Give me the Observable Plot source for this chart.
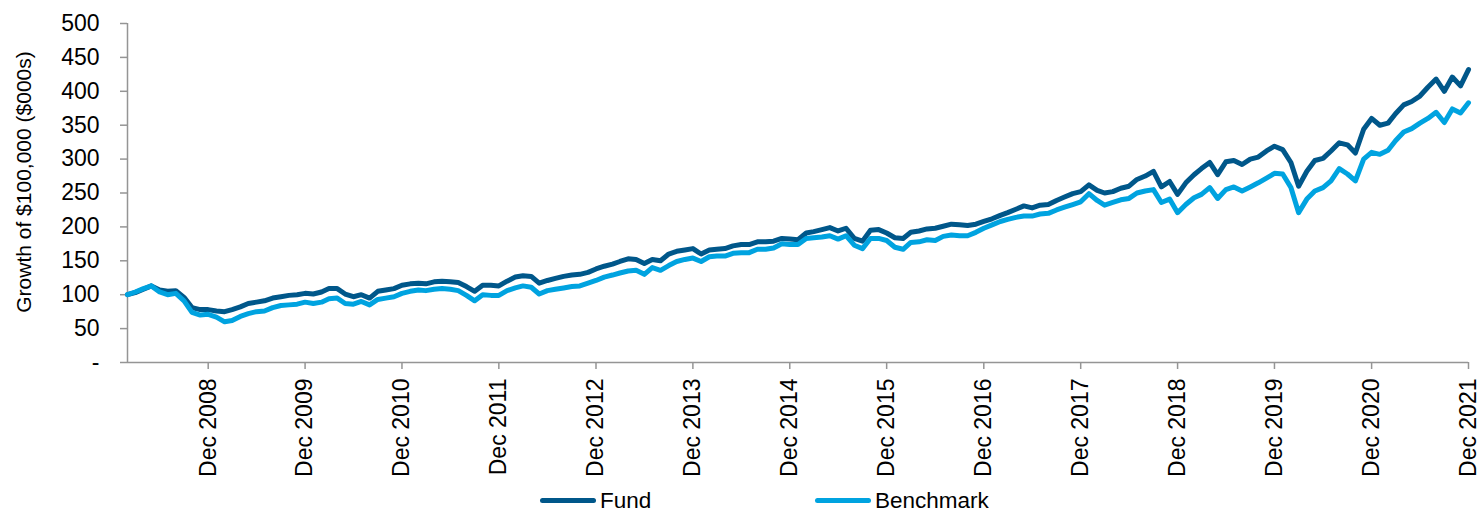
<!DOCTYPE html>
<html><head><meta charset="utf-8">
<script src="https://cdn.jsdelivr.net/npm/d3@7"></script>
<script src="https://cdn.jsdelivr.net/npm/@observablehq/plot@0.6"></script>
<style>
body{margin:0;background:#fff;font-family:"Liberation Sans",Arial,sans-serif;overflow:hidden}
#legend{position:relative;height:23px;width:1480px;}
.item{position:absolute;top:0px;display:flex;align-items:center;font-size:22.5px;line-height:21px;color:#000;white-space:nowrap}
.sw{display:inline-block;width:56px;height:5px;border-radius:3px;margin-right:4px}
</style></head><body><div id="chart"></div><div id="legend"></div>
<script>
// First month of the series: Feb 2008 (year, zero-based month)
const startYear = 2008, startMonthIndex = 1;

const fund = [
  100,103,108,113,107,105,106,96,81,78,78,
  76,75,78,82,87,89,91,95,97,99,100,102,
  101,104,109,109,101,97,100,95,105,107,109,114,
  116,117,116,119,120,119,118,112,105,114,114,113,
  120,126,128,127,117,121,124,127,129,130,133,138,
  142,145,149,153,152,146,152,150,160,164,166,168,
  160,166,167,168,172,174,174,178,178,179,183,182,
  181,191,193,196,199,194,198,183,179,195,196,191,
  184,183,192,194,197,198,201,204,203,202,204,208,
  212,217,221,226,231,228,232,233,239,244,249,252,
  262,254,250,252,257,260,270,275,282,259,267,248,
  265,277,286,295,277,296,298,292,300,303,312,319,
  314,295,260,282,298,301,312,324,321,309,344,360,
  350,353,367,380,385,393,406,418,400,421,408,432
];
const benchmark = [
  100,104,109,113,104,100,102,91,74,70,71,
  67,60,62,68,72,75,76,81,84,85,86,89,
  87,89,94,95,87,86,90,85,93,95,97,102,
  105,107,106,108,109,108,106,99,91,100,99,99,
  106,110,113,111,101,106,108,110,112,113,117,121,
  126,129,132,135,136,130,140,136,143,149,152,154,
  149,156,157,157,161,162,162,167,167,169,175,174,
  174,183,184,185,187,182,187,173,168,183,183,180,
  170,167,177,178,181,180,186,188,187,187,192,198,
  203,208,211,214,216,216,219,220,225,229,233,237,
  249,239,232,236,240,242,250,253,255,236,241,221,
  233,243,248,258,242,255,259,253,259,265,272,279,
  278,258,221,241,253,258,268,286,278,268,300,310,
  307,313,327,340,345,353,360,369,354,374,368,383
];
const seriesNames = ["Fund", "Benchmark"];
const seriesColors = ["#00578A", "#00A3E0"];
const yTicks = [0,50,100,150,200,250,300,350,400,450,500];
const xTickLabels = ["Dec 2008","Dec 2009","Dec 2010","Dec 2011","Dec 2012","Dec 2013","Dec 2014",
  "Dec 2015","Dec 2016","Dec 2017","Dec 2018","Dec 2019","Dec 2020","Dec 2021"];
const yTitle = "Growth of $100,000 ($000s)";

const dates = fund.map((_, i) => new Date(Date.UTC(startYear, startMonthIndex + i, 1)));
const data = [];
[fund, benchmark].forEach((arr, k) => arr.forEach((v, i) => data.push({series: seriesNames[k], date: dates[i], value: v})));
const xTicks = xTickLabels.map(s => new Date(Date.UTC(+s.slice(4), 11, 1)));
const labelByTime = new Map(xTicks.map((d, i) => [+d, xTickLabels[i]]));
const axisGray = "#959595";

const chart = Plot.plot({
  width: 1480, height: 490,
  marginLeft: 127, marginRight: 12, marginTop: 23, marginBottom: 128,
  style: {fontFamily: '"Liberation Sans", Arial, sans-serif', fontSize: "23px", color: "#000", background: "#fff"},
  x: {type: "utc", domain: [dates[0], dates[dates.length - 1]]},
  y: {domain: [0, 500]},
  color: {domain: seriesNames, range: seriesColors},
  marks: [
    Plot.ruleY([0], {stroke: axisGray, strokeWidth: 1.5}),
    Plot.ruleX([dates[0]], {stroke: axisGray, strokeWidth: 1.5}),
    Plot.axisY({ticks: yTicks, tickFormat: d => d === 0 ? "-" : String(d), tickSize: 7, tickPadding: 21,
      stroke: axisGray, strokeWidth: 1.5, fill: "#000", label: null, fontSize: 23}),
    Plot.axisX({ticks: xTicks, tickFormat: d => labelByTime.get(+d), tickRotate: -90, tickSize: 7, tickPadding: 9,
      textAnchor: "end", lineAnchor: "middle", stroke: axisGray, strokeWidth: 1.5, fill: "#000", label: null, fontSize: 23}),
    Plot.lineY(data, {x: "date", y: "value", z: "series", stroke: "series", strokeWidth: 5,
      strokeLinejoin: "round", strokeLinecap: "round"}),
    Plot.text([yTitle], {frameAnchor: "left", text: d => d, rotate: -90, dx: -103, dy: -11,
      fontSize: 21, lineAnchor: "middle", textAnchor: "middle", fill: "#000"})
  ]
});
document.getElementById("chart").appendChild(chart);

const legend = document.getElementById("legend");
const legendX = [540, 815];
seriesNames.forEach((name, k) => {
  const it = document.createElement("div");
  it.className = "item";
  it.style.left = legendX[k] + "px";
  it.innerHTML = `<span class="sw" style="background:${seriesColors[k]}"></span><span>${name}</span>`;
  legend.appendChild(it);
});
</script>
</body></html>
